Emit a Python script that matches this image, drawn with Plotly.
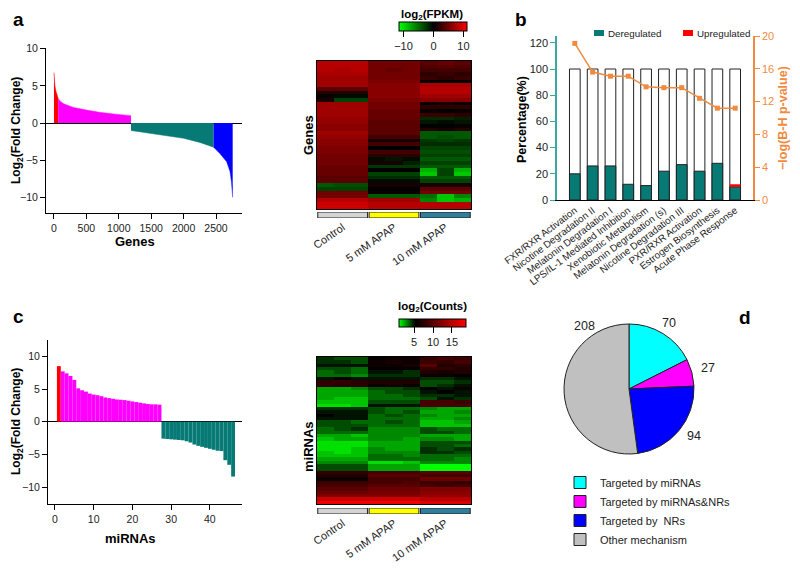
import plotly.graph_objects as go

FONT = "Liberation Sans, Arial, sans-serif"
W, H = 800, 569
OFF = 8  # page body margin of the html page


def px(x):
    return (x - OFF) / W


def py(y):
    return 1 - (y - OFF) / H


# ---------------- Panel a: ranked log2 fold change of genes ----------------
red_genes_x = [0, 5, 15, 30, 50, 65]
red_genes_y = [6.8, 6.0, 5.0, 4.3, 3.7, 3.3]
up_genes_x = [65, 100, 150, 300, 500, 700, 950, 1188]
up_genes_y = [3.3, 2.9, 2.6, 2.1, 1.75, 1.45, 1.2, 1.0]
down_genes_x = [1188, 1480, 1740, 2000, 2250, 2464]
down_genes_y = [-1.0, -1.35, -1.7, -2.05, -2.6, -3.25]
blue_genes_x = [2464, 2560, 2665, 2716, 2740, 2757]
blue_genes_y = [-3.25, -4.1, -5.2, -6.5, -8.0, -10.0]
gene_ticks = [0, 500, 1000, 1500, 2000, 2500]
fc_ticks = [-10, -5, 0, 5, 10]

# gene heatmap, log2(FPKM): 3 Control | 3 x 5 mM | 3 x 10 mM
gene_heat = [
    [8, 8, 8, 5, 5, 5, 4, 4.5, 4],
    [8, 8, 8, 5, 5, 5, 3.5, 4, 3.5],
    [8, 7.5, 8, 5, 4.5, 5, 3, 3, 3],
    [7.5, 7.5, 7.5, 5, 5, 5, 2, 2.5, 2],
    [7, 7, 7, 5, 5, 5, 2.5, 2, 2.5],
    [7, 7, 7, 5.5, 5.5, 5.5, 0.3, 0.3, 0.3],
    [7, 7, 7, 6, 6, 6, 7.5, 7.5, 7.5],
    [4, 4, 4, 6, 6, 6, 8, 8, 8],
    [1.5, 1.5, 1.5, 6, 6, 6, 8, 8, 8],
    [0.5, -0.5, -0.5, 6, 6, 6, 7, 7, 7],
    [1, -3, -3, 5.5, 5.5, 5.5, 6, 6, 6],
    [7, 7, 7, 5, 5, 5, 0.5, 1, 0.5],
    [7, 7, 7, 5, 5, 5, 2, 2, 2],
    [7, 7, 7, 4.5, 4.5, 4.5, 0.5, 0, 0.5],
    [7, 7, 7, 4.5, 4.5, 4.5, 2.5, 2.5, 2],
    [6.5, 6.5, 6.5, 4.5, 4.5, 4.5, -2, -2, -1.5],
    [6.5, 6.5, 6.5, 4, 4, 4, -1, -0.5, -1],
    [6, 6, 6, 4, 4, 4, 0, 0, 0.5],
    [6, 6, 6, 4, 4, 4, 1.5, 1, 1.5],
    [7, 7, 7, 4, 4, 4, -4, -4, -4],
    [6.5, 6.5, 6.5, 3, 3, 3, -4, -3.5, -4],
    [6, 6, 6, 1, 1, 1, -2.5, -3, -2.5],
    [6, 6, 6, 3, 3, 3, -2, -2, -2],
    [5.5, 5.5, 5.5, 0, 0, 0, -3, -3, -3],
    [5.5, 5.5, 5.5, 3, 3, 3, -3.5, -3.5, -3.5],
    [5, 5, 5, 2, 2, 2, -3, -3, -3],
    [5, 5, 5, -0.5, -1, -0.5, -4, -4, -4],
    [5, 5, 5, 1, 1, -1.5, -3, -3, -3],
    [4.5, 4.5, 4.5, -2.5, -2.5, -2.5, -4, -4, -4],
    [4.5, 4.5, 4.5, 0, 0, 0, -8, -3, -8],
    [4.5, 4.5, 4.5, -3, -3, -3, -9, -3, -9],
    [4, 4, 4, -2, -2, -2, -4, -4, -4],
    [4, 4, 4, -0.5, -0.5, -0.5, -3, -3, -3],
    [-4, -3.5, -3.5, 1, 1, 1, 1, 1, 1],
    [-3, -3, -3, 0, 0, 0, 4, 4, 4],
    [5, 5, 5, 0.5, 0.5, 0.5, 5, 5, 5],
    [5, 5, 5, -4, -4, -4, -5, -9, -6],
    [8, 8, 8, 7, 7, 7, -6, -9, -8],
    [9, 9, 9, 8, 8, 8, 8, 8, 8],
    [9, 9, 9, 8, 8, 8, 8, 8, 8],
]
gene_cbar_ticks = [-10, 0, 10]

groups = ["Control", "5 mM APAP", "10 mM APAP"]
group_colors = ["#d4d4d4", "#ffff00", "#2f7f9c"]
group_height = [1, 1, 1]

# ---------------- Panel b: pathways ----------------
pathways = [
    "FXR/RXR Activation",
    "Nicotine Degradation II",
    "Melatonin Degradation I",
    "LPS/IL-1 Mediated Inhibition",
    "Xenobiotic Metabolism",
    "Melatonin Degradation (s)",
    "Nicotine Degradation III",
    "PXR/RXR Activation",
    "Estrogen Biosynthesis",
    "Acute Phase Response",
]
total_pct = [100, 100, 100, 100, 100, 100, 100, 100, 100, 100]
dereg_pct = [20, 26, 26, 12, 11, 22, 27, 22, 28, 10]
upreg_pct = [0, 0, 0, 0, 0, 0, 0, 0, 0, 2]
neg_log_p = [19.1, 15.6, 15.1, 15.1, 13.8, 13.7, 13.7, 12.4, 11.2, 11.2]
pct_ticks = [0, 20, 40, 60, 80, 100, 120]
p_ticks = [0, 4, 8, 12, 16, 20]
b_series = ["Deregulated", "Upregulated"]

# ---------------- Panel c: ranked miRNAs ----------------
mirna_red = [8.5]
mirna_up = [7.7, 7.4, 7.0, 6.4, 5.1, 4.8, 4.6, 4.3, 4.15, 4.05, 3.9, 3.7, 3.6,
            3.5, 3.4, 3.35, 3.3, 3.2, 3.1, 3.0, 2.9, 2.8, 2.7, 2.65, 2.65, 2.6]
mirna_down = [-2.6, -2.65, -2.7, -2.75, -2.8, -2.85, -3.0, -3.2, -3.5, -3.7,
              -3.85, -4.0, -4.15, -4.3, -4.45, -4.5, -5.9, -6.6, -8.4]
mirna_ticks = [0, 10, 20, 30, 40]

mirna_heat = [
    [4.5, 4, 4, 5.5, 6, 6, 8, 9, 8.5],
    [4.5, 4.5, 4, 6, 6.5, 6, 8.5, 8, 9],
    [5, 5, 5, 6, 6, 6.5, 10, 7, 7.5],
    [4, 4, 3.5, 5.5, 5.5, 5.5, 8, 8, 7],
    [3.5, 4, 3.5, 5, 5, 4.5, 7, 6.5, 7],
    [3.5, 3.5, 3, 4.5, 4.5, 4.5, 6, 6, 5.5],
    [5, 5.5, 5, 5, 5, 5, 4.5, 4.5, 5],
    [8, 8, 7.5, 7, 7, 7, 4, 4, 4.5],
    [8, 7.5, 7.5, 6, 6.5, 6, 4, 4.5, 5],
    [2.5, 2.5, 3, 4, 4, 4.5, 5.5, 5, 6],
    [2.5, 2.5, 2.5, 3.5, 4, 4, 5, 5.5, 5],
    [2.5, 2.5, 2.5, 3.5, 3.5, 4, 4.5, 4.5, 5],
    [2.5, 2, 2, 3.5, 3.5, 3.5, 4, 5, 4.5],
    [2, 2, 2, 4, 4, 4, 9, 9, 8.5],
    [1.5, 1.5, 2, 5, 5, 5, 9, 9, 9],
    [4.5, 4.5, 4.5, 4, 3.5, 3.5, 3, 2.5, 2.5],
    [5, 5, 5, 4, 3.5, 4, 2.5, 2.5, 3],
    [5.5, 5, 5, 3.5, 4, 3.5, 3, 2.5, 2.5],
    [5, 5, 5, 3.5, 3.5, 3.5, 2.5, 2.5, 3],
    [4, 4, 3.5, 3.5, 4, 3.5, 2, 2, 2.5],
    [4, 4, 4, 3.5, 3.5, 3.5, 2, 2, 2],
    [3.5, 4, 4.5, 3, 3, 3, 4, 3.5, 3.5],
    [3.5, 3.5, 3.5, 3, 3, 3, 4, 4, 3.5],
    [2.5, 2.5, 2, 3, 3, 3, 2.5, 2.5, 2.5],
    [2, 2.5, 2.5, 3, 3, 2.5, 3, 3, 2.5],
    [1.5, 1.5, 1.5, 2.5, 2.5, 2.5, 4, 4, 4],
    [1.5, 1.5, 1.5, 2.5, 2.5, 2.5, 4, 4, 3.5],
    [1.5, 1.5, 2, 3, 2.5, 2.5, 4.5, 4, 4.5],
    [2, 1.5, 2, 3, 3, 3, 4.5, 4.5, 4],
    [2, 2, 2, 3.5, 3.5, 3, 3.5, 3.5, 3.5],
    [2.5, 2.5, 2.5, 3.5, 3.5, 3.5, 3.5, 3.5, 3],
    [3, 3, 3, 1.5, 1.5, 2, 3, 3, 3],
    [4, 4, 4, 2.5, 2.5, 2.5, 1, 1, 1],
    [4, 4, 4, 2.5, 2.5, 2.5, 1, 1, 1],
    [8, 8, 8, 9, 9, 9, 10, 10, 10],
    [7, 7, 7, 10, 10, 10, 9, 9, 9],
    [6, 6, 6, 9, 9, 9, 11, 11, 11],
    [8.5, 8.5, 8.5, 9, 9, 9.5, 8.5, 8.5, 8],
    [9, 9, 9, 10, 10, 10, 9, 8.5, 9],
    [10, 10, 10, 11, 11, 11, 12, 12, 12],
    [11, 11, 11, 11.5, 11.5, 11.5, 12.5, 12.5, 12.5],
    [12, 12, 12, 12, 12, 12, 13, 13, 13],
    [16, 16, 16, 16, 16, 16, 15, 15, 15],
    [18, 18, 18, 18, 18, 18, 17, 17, 17],
]
mirna_cbar_ticks = [5, 10, 15]

# ---------------- Panel d: pie ----------------
pie_labels = ["Targeted by miRNAs", "Targeted by miRNAs&NRs",
              "Targeted by  NRs", "Other mechanism"]
pie_values = [70, 27, 94, 208]
pie_colors = ["#00ffff", "#ff00ff", "#0000ff", "#c0c0c0"]

# colours
RED = "#ff0000"
MAG = "#ff00ff"
TEAL = "#077a76"
BLUE = "#0000ff"
ORANGE = "#f08a3e"
TEAL_AX = "#3aa89d"
TXT = "#222222"

fig = go.Figure()

# panel a areas
for xs, ys, col in [(red_genes_x, red_genes_y, RED), (up_genes_x, up_genes_y, MAG),
                    (down_genes_x, down_genes_y, TEAL), (blue_genes_x, blue_genes_y, BLUE)]:
    fig.add_trace(go.Scatter(x=xs, y=ys, mode="lines", fill="tozeroy", fillcolor=col,
                             line=dict(color=col, width=0.5), showlegend=False,
                             hoverinfo="skip", xaxis="x", yaxis="y"))

# heatmap a
fig.add_trace(go.Heatmap(z=gene_heat, coloraxis="coloraxis", xaxis="x2", yaxis="y2",
                         hoverinfo="skip"))
fig.add_trace(go.Bar(x=groups, y=group_height, width=0.97,
                     marker=dict(color=group_colors, line=dict(color="#222", width=1)),
                     showlegend=False, hoverinfo="skip", xaxis="x3", yaxis="y3"))

# panel b
fig.add_trace(go.Bar(x=pathways, y=total_pct, width=0.6,
                     marker=dict(color="white", line=dict(color="#222", width=1)),
                     showlegend=False, hoverinfo="skip", xaxis="x4", yaxis="y4"))
fig.add_trace(go.Bar(x=pathways, y=dereg_pct, width=0.6, name=b_series[0],
                     marker=dict(color=TEAL, line=dict(color="#222", width=1)),
                     showlegend=False, hoverinfo="skip", xaxis="x4", yaxis="y4"))
fig.add_trace(go.Bar(x=pathways, y=upreg_pct, base=dereg_pct, width=0.6, name=b_series[1],
                     marker=dict(color=RED, line=dict(color=RED, width=0)),
                     showlegend=False, hoverinfo="skip", xaxis="x4", yaxis="y4"))
fig.add_trace(go.Scatter(x=pathways, y=neg_log_p, mode="lines+markers",
                         line=dict(color=ORANGE, width=1.5),
                         marker=dict(symbol="square", size=5, color=ORANGE),
                         showlegend=False, hoverinfo="skip", xaxis="x4", yaxis="y5"))

# panel c
n_up = len(mirna_red) + len(mirna_up)
fig.add_trace(go.Bar(x=list(range(1, len(mirna_red) + 1)), y=mirna_red, width=1,
                     marker=dict(color=RED, line=dict(width=0)), showlegend=False,
                     hoverinfo="skip", xaxis="x6", yaxis="y6"))
fig.add_trace(go.Bar(x=list(range(len(mirna_red) + 1, n_up + 1)), y=mirna_up, width=1,
                     marker=dict(color=MAG, line=dict(width=0)), showlegend=False,
                     hoverinfo="skip", xaxis="x6", yaxis="y6"))
fig.add_trace(go.Bar(x=list(range(n_up + 1, n_up + len(mirna_down) + 1)), y=mirna_down, width=1,
                     marker=dict(color=TEAL, line=dict(width=0)), showlegend=False,
                     hoverinfo="skip", xaxis="x6", yaxis="y6"))

# heatmap c
fig.add_trace(go.Heatmap(z=mirna_heat, coloraxis="coloraxis2", xaxis="x7", yaxis="y7",
                         hoverinfo="skip"))
fig.add_trace(go.Bar(x=groups, y=group_height, width=0.97,
                     marker=dict(color=group_colors, line=dict(color="#222", width=1)),
                     showlegend=False, hoverinfo="skip", xaxis="x8", yaxis="y8"))

# panel d
fig.add_trace(go.Pie(labels=pie_labels, values=pie_values, sort=False, direction="clockwise",
                     rotation=0, textinfo="none", hoverinfo="skip",
                     marker=dict(colors=pie_colors, line=dict(color="#222", width=1)),
                     domain=dict(x=[px(563), px(695)], y=[py(454), py(324)]),
                     legend="legend2"))

tickf = dict(family=FONT, size=10.5, color=TXT)


def line_axis(**kw):
    d = dict(showline=True, linecolor="black", linewidth=1, ticks="outside", ticklen=5,
             tickcolor="black", showgrid=False, zeroline=False, tickfont=tickf)
    d.update(kw)
    return d


def box_axis(**kw):
    d = dict(showline=True, mirror=True, linecolor="black", linewidth=1, ticks="",
             showticklabels=False, showgrid=False, zeroline=False)
    d.update(kw)
    return d


cbar_common = dict(orientation="h", xanchor="left", yanchor="top", lenmode="pixels",
                   outlinecolor="black", outlinewidth=1, ticks="outside", ticklen=6,
                   tickcolor="black", tickfont=dict(family=FONT, size=11, color=TXT),
                   ticklabelposition="outside bottom", xpad=0, ypad=0)

annotations = []
shapes = []


def ann(text, x, y, size=12, bold=True, angle=0, color="black", xanchor="center"):
    annotations.append(dict(text=("<b>%s</b>" % text) if bold else text, x=px(x), y=py(y),
                            xref="paper", yref="paper", showarrow=False, textangle=angle,
                            font=dict(family=FONT, size=size, color=color),
                            xanchor=xanchor, yanchor="middle"))


ann("a", 18, 20, size=19)
ann("b", 521, 20, size=19)
ann("c", 18, 316, size=19)
ann("d", 745, 317, size=19)
ann("Log<sub>2</sub>(Fold Change)", 17, 131, size=12, angle=-90)
ann("Log<sub>2</sub>(Fold Change)", 17, 422, size=12, angle=-90)
ann("Genes", 135, 242, size=13)
ann("miRNAs", 130, 538, size=13)
ann("Genes", 308, 135, size=13, angle=-90)
ann("miRNAs", 308, 447, size=13, angle=-90)
ann("log<sub>2</sub>(FPKM)", 432, 15, size=11.5)
ann("log<sub>2</sub>(Counts)", 432, 307, size=11.5)
ann("Percentage(%)", 522, 120, size=12.5, angle=-90)
ann("−log(B-H p-value)", 783, 118, size=12.5, angle=-90, color=ORANGE)
pie_label_pos = [(669, 323), (708, 368), (694, 436), (584, 326)]
for v, (lx, ly) in zip(pie_values, pie_label_pos):
    ann(str(v), lx, ly, size=12.5, bold=False, color=TXT)

# panel b legend (key boxes + names)
for name, col, (kx, ky) in zip(b_series, [TEAL, RED], [(594, 33), (683, 33)]):
    shapes.append(dict(type="rect", xref="paper", yref="paper",
                       x0=px(kx), x1=px(kx + 10), y0=py(ky + 3), y1=py(ky - 3),
                       fillcolor=col, line=dict(width=0)))
    ann(name, kx + 12, ky, size=9.8, bold=False, color=TXT, xanchor="left")

fig.update_layout(
    width=W, height=H, margin=dict(l=0, r=0, t=0, b=0, pad=0, autoexpand=False),
    paper_bgcolor="white", plot_bgcolor="white",
    font=dict(family=FONT, size=11, color=TXT),
    barmode="overlay",
    xaxis=line_axis(domain=[px(46), px(242)], range=[-123, 2901], anchor="y",
                    tickvals=gene_ticks),
    yaxis=line_axis(domain=[py(213), py(48)], range=[-12.1, 10.1], anchor="x",
                    tickvals=fc_ticks, zeroline=True, zerolinecolor="black", zerolinewidth=1.2),
    xaxis2=box_axis(domain=[px(317), px(471)], range=[-0.5, 8.5], anchor="y2"),
    yaxis2=box_axis(domain=[py(209), py(61)], range=[39.5, -0.5], anchor="x2"),
    xaxis3=dict(domain=[px(317), px(471)], range=[-0.5, 2.5], anchor="y3", showline=False,
                ticks="", tickangle=-35, tickfont=dict(family=FONT, size=11, color=TXT),
                showgrid=False, zeroline=False),
    yaxis3=dict(domain=[py(218), py(212)], range=[0, 1], anchor="x3", visible=False),
    xaxis4=dict(domain=[px(557), px(753)], range=[-1, 10], anchor="y4", showline=True,
                linecolor="black", linewidth=1, ticks="", tickangle=-37,
                tickfont=dict(family=FONT, size=9.8, color=TXT), showgrid=False, zeroline=False),
    yaxis4=line_axis(domain=[py(200), py(36)], range=[0, 125.2], anchor="x4", tickvals=pct_ticks,
                     linecolor=TEAL_AX, tickcolor=TEAL_AX, linewidth=1.5,
                     tickfont=dict(family=FONT, size=11, color=TXT)),
    yaxis5=line_axis(range=[0, 20], overlaying="y4", side="right", anchor="x4", tickvals=p_ticks,
                     linecolor=ORANGE, tickcolor=ORANGE, linewidth=1.5,
                     tickfont=dict(family=FONT, size=11, color=ORANGE)),
    xaxis6=line_axis(domain=[px(48), px(242)], range=[-1.8, 48.3], anchor="y6",
                     tickvals=mirna_ticks),
    yaxis6=line_axis(domain=[py(504), py(340)], range=[-12.6, 12.5], anchor="x6",
                     tickvals=fc_ticks, zeroline=True, zerolinecolor="black", zerolinewidth=1.2),
    xaxis7=box_axis(domain=[px(317), px(471)], range=[-0.5, 8.5], anchor="y7"),
    yaxis7=box_axis(domain=[py(504), py(357)], range=[43.5, -0.5], anchor="x7"),
    xaxis8=dict(domain=[px(317), px(471)], range=[-0.5, 2.5], anchor="y8", showline=False,
                ticks="", tickangle=-35, tickfont=dict(family=FONT, size=11, color=TXT),
                showgrid=False, zeroline=False),
    yaxis8=dict(domain=[py(514), py(508)], range=[0, 1], anchor="x8", visible=False),
    coloraxis=dict(colorscale=[[0, "#00ff00"], [0.507, "#000000"], [1, "#ff0000"]],
                   cmin=-11.5, cmax=11.2,
                   colorbar=dict(x=px(399), y=py(22), len=68, thickness=9,
                                 tickvals=gene_cbar_ticks, **cbar_common)),
    coloraxis2=dict(colorscale=[[0, "#00ff00"], [0.243, "#000000"], [1, "#ff0000"]],
                    cmin=1, cmax=18.7,
                    colorbar=dict(x=px(399), y=py(319), len=67, thickness=8,
                                  tickvals=mirna_cbar_ticks, **cbar_common)),
    legend2=dict(x=px(560), y=py(468), xanchor="left", yanchor="top",
                 font=dict(family=FONT, size=11, color=TXT), bgcolor="rgba(0,0,0,0)"),
    annotations=annotations,
    shapes=shapes,
)

fig.write_html("out.html")
